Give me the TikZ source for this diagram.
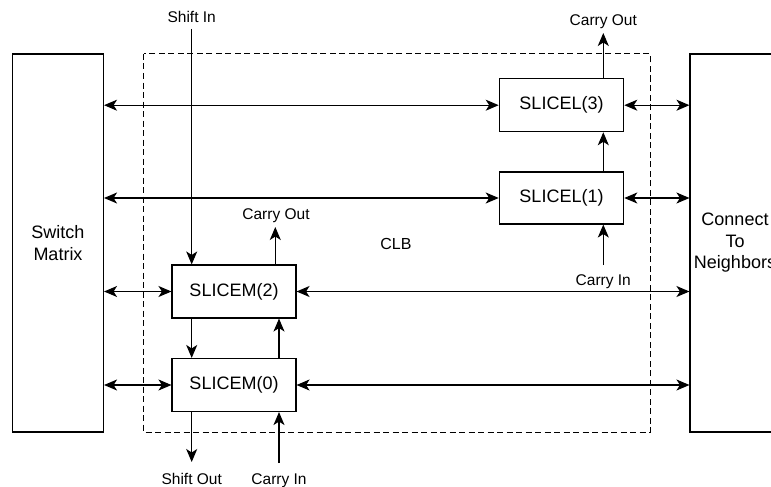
\documentclass[tikz,border=0pt]{standalone}
\usepackage{fontspec}
\setmainfont{Liberation Sans}
\usetikzlibrary{arrows.meta}
\begin{document}
\begin{tikzpicture}[x=1pt,y=-1pt,
  blk/.style={draw,line width=1.1pt,inner sep=0pt,font=\fontsize{18}{21.5}\selectfont,align=center},
  lab/.style={font=\fontsize{15.5}{18}\selectfont,inner sep=0pt,anchor=base},
  w/.style={line width=1.1pt},
  arr/.style={w,-{Stealth[length=13pt,width=11pt,inset=3.5pt]}},
  darr/.style={w,{Stealth[length=13pt,width=11pt,inset=3.5pt]}-{Stealth[length=13pt,width=11pt,inset=3.5pt]}},
  clb/.style={draw,line width=1pt,dash pattern=on 6pt off 3.5pt}]
  \useasboundingbox (0,0) rectangle (771,487);
  % outer blocks and the CLB frame
  \node[blk,minimum width=91pt,minimum height=378pt] (sw) at (58,243) {Switch\\Matrix};
  \node[blk,minimum width=90pt,minimum height=378pt] (nb) at (735,243) {Connect\\To\\Neighbors};
  \draw[clb] (143.5,54) rectangle (650,432);
  \node[lab] (clbl) at (396,249.3) {\fontsize{16}{18}\selectfont CLB};
  % slices
  \node[blk,minimum width=124.5pt,minimum height=53pt] (l3) at (561.5,105.2) {SLICEL(3)};
  \node[blk,minimum width=124.5pt,minimum height=52pt] (l1) at (561.5,198) {SLICEL(1)};
  \node[blk,minimum width=124pt,minimum height=53pt] (m2) at (234,291.5) {SLICEM(2)};
  \node[blk,minimum width=124pt,minimum height=53pt] (m0) at (234,385) {SLICEM(0)};
  \foreach \s in {l3,l1,m2,m0} {
    \draw[darr] (sw.east |- \s.west) -- (\s.west);
    \draw[darr] (\s.east) -- (\s.east -| nb.west);
  }
  % shift chain
  \coordinate (si) at (191.7,29);
  \coordinate (so) at (191.7,462);
  \draw[arr] (si) -- (si |- m2.north);
  \draw[arr] (si |- m2.south) -- (si |- m0.north);
  \draw[arr] (si |- m0.south) -- (so);
  \node[lab] (sil) at (191.7,22.3) {Shift In};
  \node[lab] (sol) at (191.7,484.3) {Shift Out};
  % carry chain, SLICEM
  \coordinate (cim) at (279,463);
  \coordinate (com) at (275.3,227);
  \draw[arr] (cim) -- (cim |- m0.south);
  \draw[arr] (cim |- m0.north) -- (cim |- m2.south);
  \draw[arr] (com |- m2.north) -- (com);
  \node[lab] (ciml) at (279,484.3) {Carry In};
  \node[lab] (coml) at (276,219) {Carry Out};
  % carry chain, SLICEL
  \coordinate (cil) at (603.3,265);
  \coordinate (col) at (603.3,33);
  \draw[arr] (cil) -- (cil |- l1.south);
  \draw[arr] (cil |- l1.north) -- (cil |- l3.south);
  \draw[arr] (col |- l3.north) -- (col);
  \node[lab] (cill) at (603.3,285.7) {Carry In};
  \node[lab] (coll) at (603.3,26) {Carry Out};
\end{tikzpicture}
\end{document}
